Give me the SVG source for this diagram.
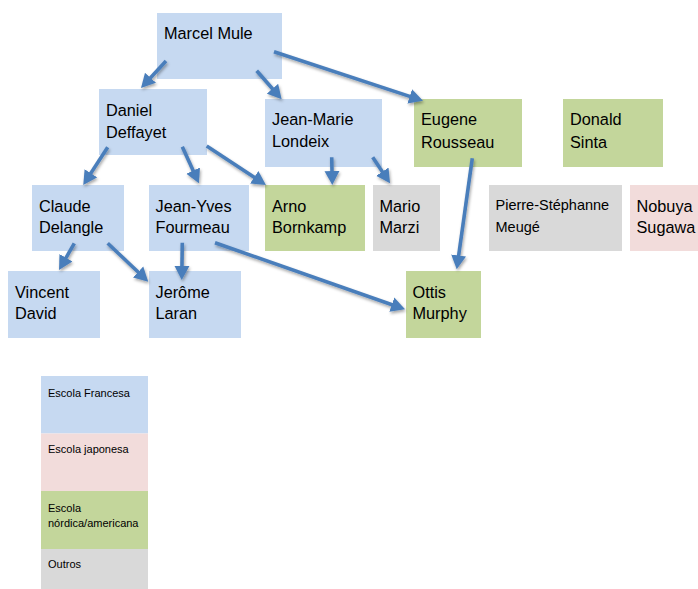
<svg xmlns="http://www.w3.org/2000/svg" width="698" height="589" viewBox="0 0 698 589">
<style>
.blue{fill:#c6d9f1}
.pink{fill:#f2dcdb}
.green{fill:#c3d69b}
.gray{fill:#d9d9d9}
text{font-family:"Liberation Sans",Arial,sans-serif;fill:#000}
.t{font-size:16.3px}
.s{font-size:14.5px}
.l{font-size:11px}
.c line{stroke:#4a7ebb;stroke-width:3.6;marker-end:url(#ah)}
</style>
<defs>
<filter id="sh" x="-20%" y="-20%" width="140%" height="140%">
<feDropShadow dx="1" dy="2" stdDeviation="1.4" flood-color="#000" flood-opacity="0.35"/>
</filter>
<marker id="ah" markerUnits="userSpaceOnUse" markerWidth="16" markerHeight="16" viewBox="0 -8 16 16" refX="4" refY="0" orient="auto">
<path d="M0,-7.5 L14,0 L0,7.5 z" fill="#4a7ebb"/>
</marker>
</defs>
<rect width="698" height="589" fill="#fff"/>

<g id="marcel-mule"><rect class="blue" x="157" y="13" width="125" height="66"/><text class="t" x="164" y="38.5">Marcel Mule</text></g>
<g id="daniel-deffayet"><rect class="blue" x="99" y="89" width="108" height="66"/><text class="t" x="106" y="115.5">Daniel</text><text class="t" x="106" y="137.5">Deffayet</text></g>
<g id="jean-marie-londeix"><rect class="blue" x="265" y="99" width="117" height="68"/><text class="t" x="272" y="125">Jean-Marie</text><text class="t" x="272" y="147">Londeix</text></g>
<g id="eugene-rousseau"><rect class="green" x="414" y="99" width="108" height="68"/><text class="t" x="421" y="125">Eugene</text><text class="t" x="421" y="147.5">Rousseau</text></g>
<g id="donald-sinta"><rect class="green" x="563" y="99" width="100" height="68"/><text class="t" x="570" y="125">Donald</text><text class="t" x="570" y="147.5">Sinta</text></g>

<g id="claude-delangle"><rect class="blue" x="32" y="185" width="92" height="66"/><text class="t" x="39" y="211.5">Claude</text><text class="t" x="39" y="233">Delangle</text></g>
<g id="jean-yves-fourmeau"><rect class="blue" x="149" y="185" width="100" height="66"/><text class="t" x="155.5" y="211.5">Jean-Yves</text><text class="t" x="155.5" y="233">Fourmeau</text></g>
<g id="arno-bornkamp"><rect class="green" x="265" y="185" width="100" height="66"/><text class="t" x="272" y="211.5">Arno</text><text class="t" x="272" y="233">Bornkamp</text></g>
<g id="mario-marzi"><rect class="gray" x="373" y="185" width="67" height="66"/><text class="t" x="379.5" y="211.5">Mario</text><text class="t" x="379.5" y="233">Marzi</text></g>
<g id="pierre-stephanne-meuge"><rect class="gray" x="489" y="185" width="133" height="66"/><text class="s" x="495.5" y="209.5">Pierre-Stéphanne</text><text class="s" x="495.5" y="231.5">Meugé</text></g>
<g id="nobuya-sugawa"><rect class="pink" x="630" y="185" width="68" height="66"/><text class="t" x="636.5" y="211.5">Nobuya</text><text class="t" x="636.5" y="233">Sugawa</text></g>

<g id="vincent-david"><rect class="blue" x="8" y="271" width="92" height="67"/><text class="t" x="15" y="297.5">Vincent</text><text class="t" x="15" y="319">David</text></g>
<g id="jerome-laran"><rect class="blue" x="149" y="271" width="92" height="67"/><text class="t" x="155.5" y="297.5">Jerôme</text><text class="t" x="155.5" y="319">Laran</text></g>
<g id="ottis-murphy"><rect class="green" x="406" y="271" width="75" height="67"/><text class="t" x="412.5" y="297.5">Ottis</text><text class="t" x="412.5" y="319">Murphy</text></g>

<g id="legend">
<rect class="blue" x="41" y="376" width="107" height="57.5"/>
<rect class="pink" x="41" y="433.5" width="107" height="57.5"/>
<rect class="green" x="41" y="491" width="107" height="58"/>
<rect class="gray" x="41" y="549" width="107" height="40"/>
<text class="l" x="48" y="396.5">Escola Francesa</text>
<text class="l" x="48" y="453">Escola japonesa</text>
<text class="l" x="48" y="511.5">Escola</text>
<text class="l" x="48" y="526.5">nórdica/americana</text>
<text class="l" x="48" y="568">Outros</text>
</g>

<g id="connectors" class="c" filter="url(#sh)">
<line x1="166" y1="61" x2="147.8" y2="80.7"/>
<line x1="256.7" y1="70.7" x2="275.1" y2="91.8"/>
<line x1="274" y1="51.7" x2="413.5" y2="97.6"/>
<line x1="107.7" y1="147.3" x2="88.7" y2="176.6"/>
<line x1="182.3" y1="146.7" x2="194.8" y2="174.2"/>
<line x1="206.7" y1="146" x2="257.6" y2="179.5"/>
<line x1="331.7" y1="157.3" x2="332.1" y2="175"/>
<line x1="372.7" y1="157.3" x2="384.5" y2="175"/>
<line x1="74.3" y1="243.3" x2="64" y2="261.3"/>
<line x1="107.7" y1="243.3" x2="141" y2="274.8"/>
<line x1="182.3" y1="242.7" x2="181.9" y2="270"/>
<line x1="215" y1="242.7" x2="395.6" y2="306"/>
<line x1="472.3" y1="158.3" x2="458.1" y2="259.4"/>
</g>
</svg>
